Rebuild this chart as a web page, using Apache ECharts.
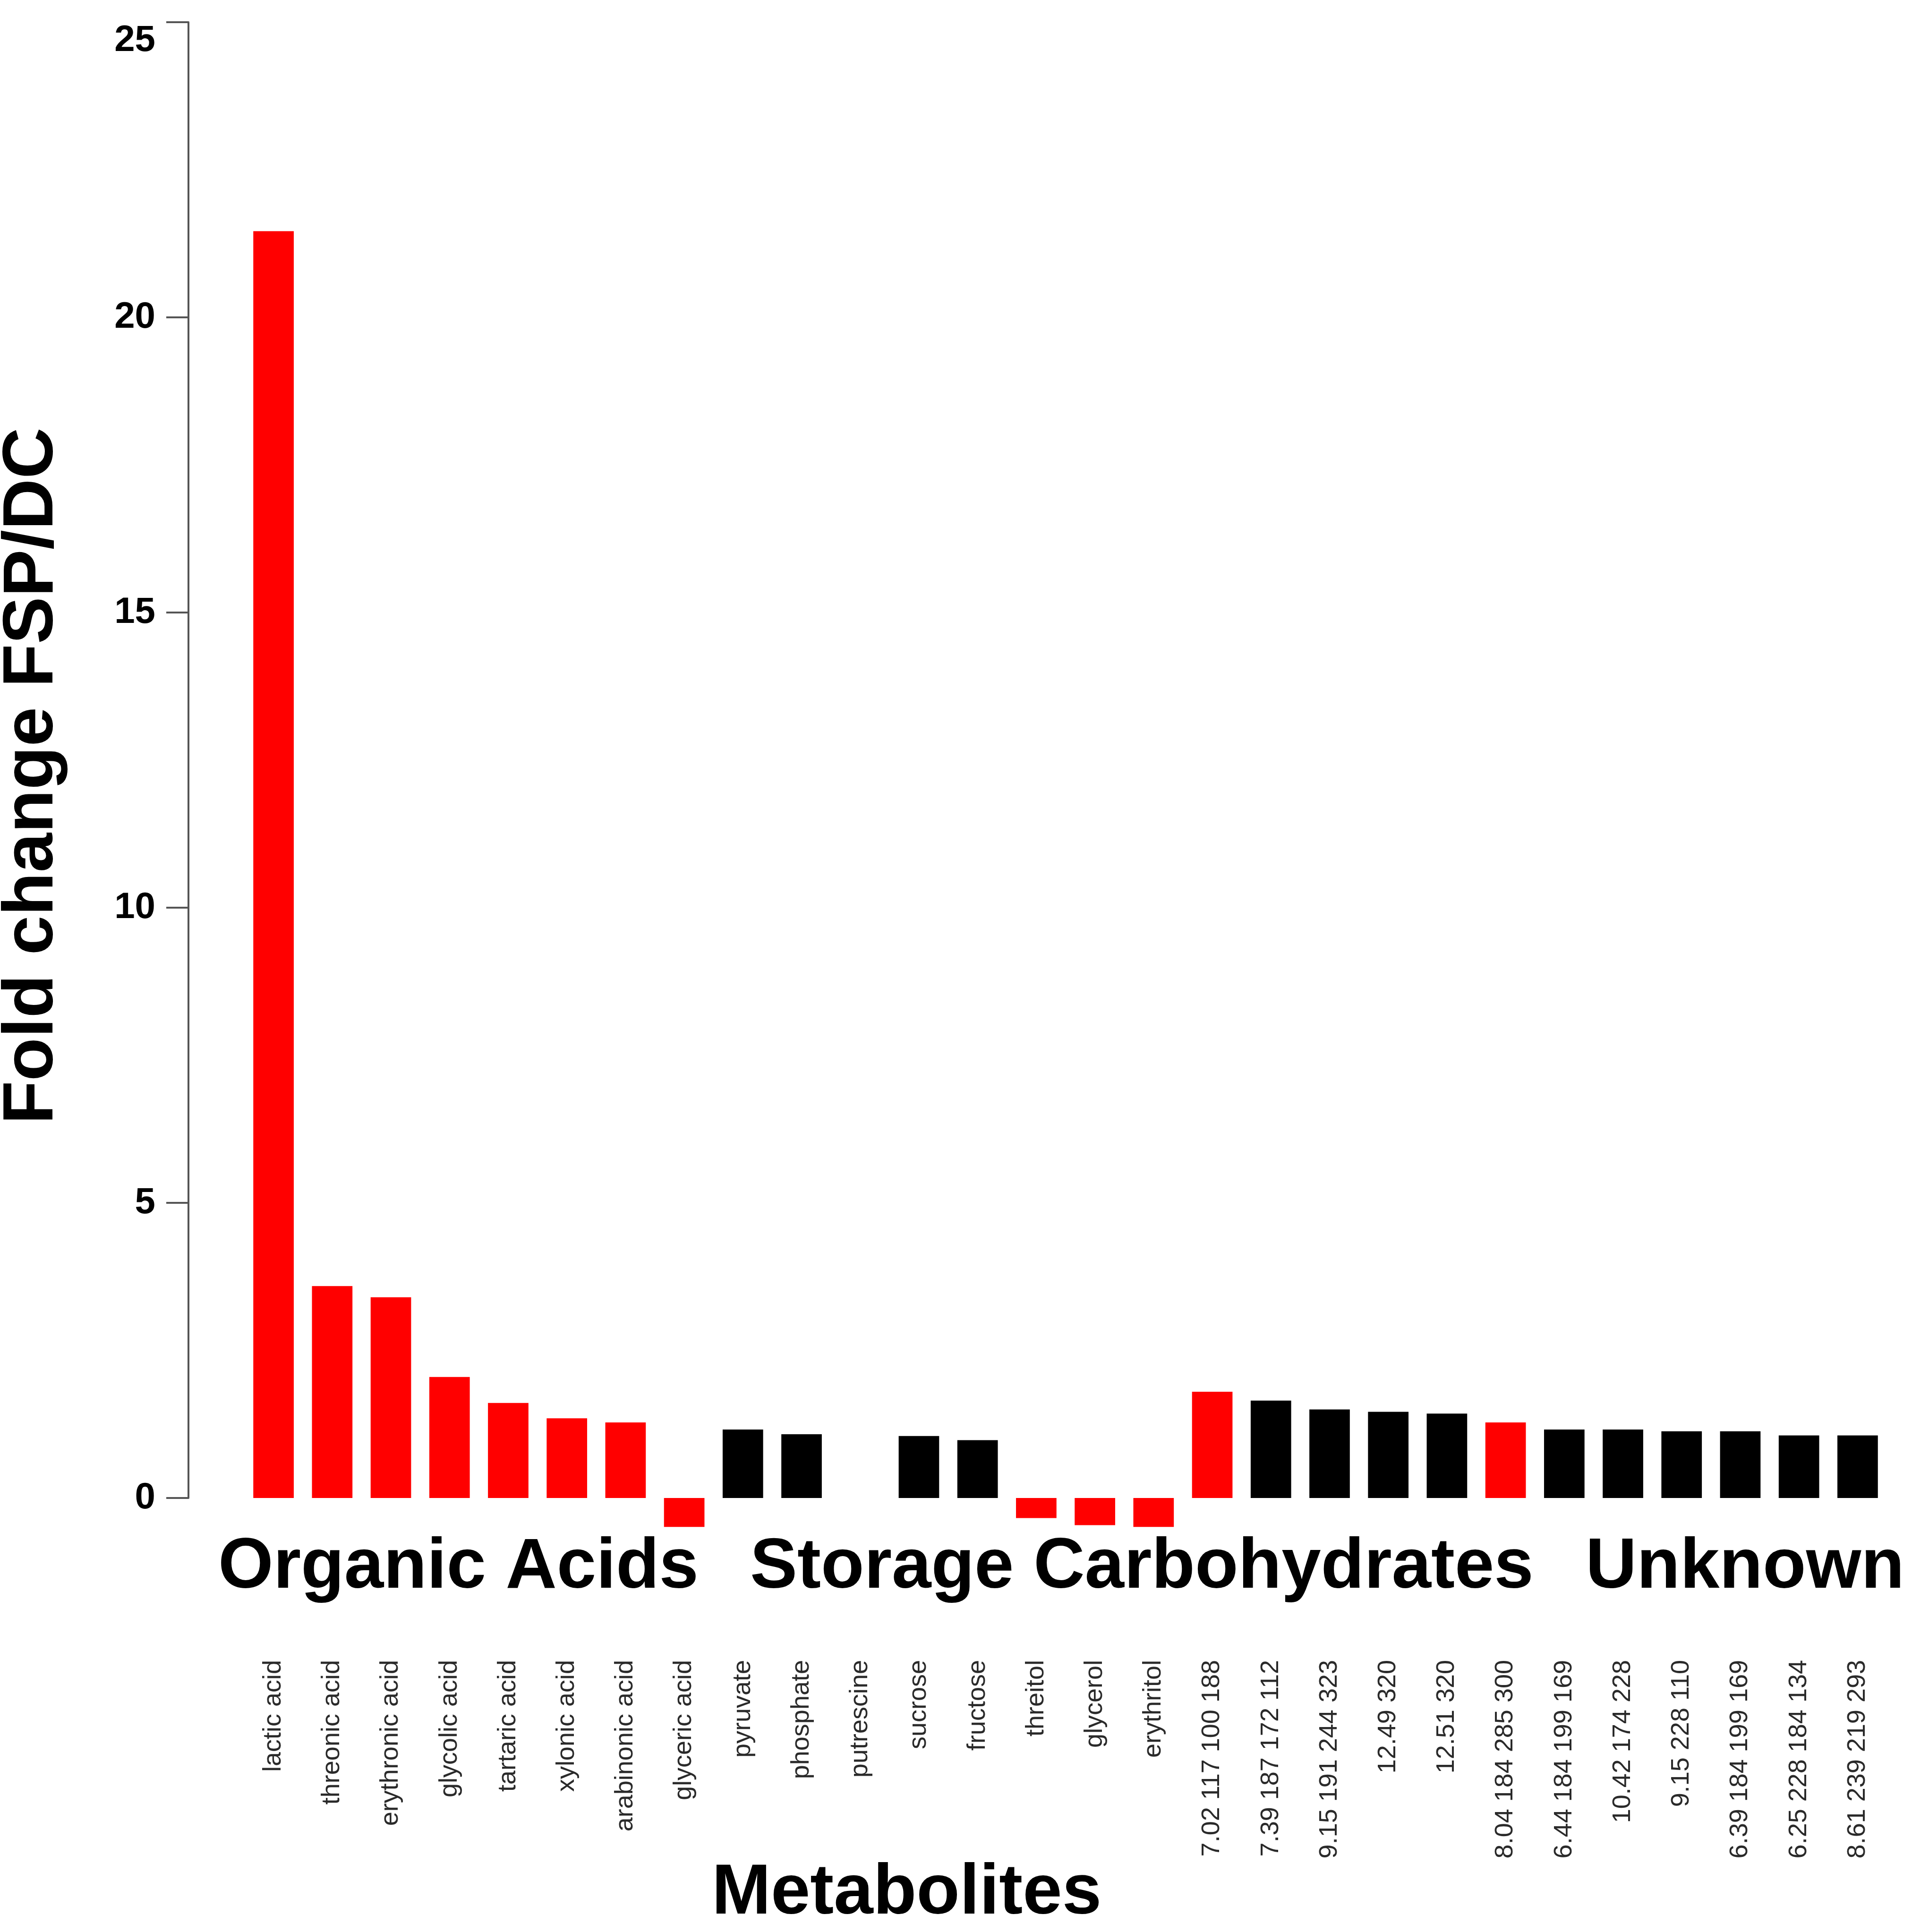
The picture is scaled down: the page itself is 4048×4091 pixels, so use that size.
<!DOCTYPE html>
<html>
<head>
<meta charset="utf-8">
<title>Fold change FSP/DC</title>
<script src="https://cdn.jsdelivr.net/npm/echarts@6/dist/echarts.min.js"></script>
<style>
  html, body { margin: 0; padding: 0; background: #fff; }
  #chart { width: 4048px; height: 4091px; }
</style>
</head>
<body>
<div id="chart"></div>
<script>
// metabolites in plotting order
const metabolites = [
  'lactic acid', 'threonic acid', 'erythronic acid', 'glycolic acid', 'tartaric acid',
  'xylonic acid', 'arabinonic acid', 'glyceric acid', 'pyruvate', 'phosphate',
  'putrescine', 'sucrose', 'fructose', 'threitol', 'glycerol', 'erythritol',
  '7.02 117 100 188', '7.39 187 172 112', '9.15 191 244 323', '12.49 320', '12.51 320',
  '8.04 184 285 300', '6.44 184 199 169', '10.42 174 228', '9.15 228 110',
  '6.39 184 199 169', '6.25 228 184 134', '8.61 239 219 293'
];
// fold change FSP/DC
const foldChange = [
  21.46, 3.59, 3.40, 2.05, 1.61,
  1.35, 1.28, -0.49, 1.16, 1.08,
  0, 1.05, 0.98, -0.34, -0.46, -0.49,
  1.80, 1.65, 1.50, 1.46, 1.43,
  1.28, 1.16, 1.16, 1.13,
  1.13, 1.06, 1.06
];
// 1 = drawn red in the figure, 0 = black
const significant = [
  1, 1, 1, 1, 1,
  1, 1, 1, 0, 0,
  0, 0, 0, 1, 1, 1,
  1, 0, 0, 0, 0,
  1, 0, 0, 0,
  0, 0, 0
];
const groups = ['Organic Acids', 'Storage Carbohydrates', 'Unknown'];
const yTicks = { min: 0, max: 25, step: 5 };

const chart = echarts.init(document.getElementById('chart'));

const font = '"Liberation Sans", Arial, sans-serif';

var barData = foldChange.map(function (v, i) {
  return {
    value: v,
    itemStyle: { color: significant[i] ? '#ff0000' : '#000000' }
  };
});

function bigText(text, x, y, align) {
  return {
    type: 'text',
    x: x,
    y: y,
    style: { text: text, font: 'bold 150px ' + font, fill: '#000', align: align || 'left', verticalAlign: 'middle' }
  };
}

var option = {
  backgroundColor: '#ffffff',
  animation: false,
  grid: {
    left: 517,
    right: 53,
    top: 47,
    bottom: 919
  },
  xAxis: {
    type: 'category',
    data: metabolites,
    axisLine: { show: false },
    axisTick: { show: false },
    axisLabel: {
      interval: 0,
      rotate: 90,
      margin: 343,
      fontSize: 54,
      fontFamily: font,
      color: '#2a2a2a'
    },
    splitLine: { show: false }
  },
  yAxis: {
    type: 'value',
    min: yTicks.min,
    max: yTicks.max,
    interval: yTicks.step,
    offset: 118,
    axisLine: { show: true, lineStyle: { color: '#555', width: 4 } },
    axisTick: { show: true, length: 47, lineStyle: { color: '#555', width: 4 } },
    axisLabel: {
      margin: 70,
      fontSize: 78,
      fontWeight: 'bold',
      fontFamily: font,
      color: '#000',
      verticalAlignMaxLabel: 'top'
    },
    splitLine: { show: false }
  },
  series: [
    {
      name: 'Fold change',
      type: 'bar',
      data: barData,
      barCategoryGap: '31%',
      clip: false
    }
  ],
  graphic: [
    {
      type: 'text',
      x: 70,
      y: 1643,
      rotation: Math.PI / 2,
      style: {
        text: 'Fold change FSP/DC',
        font: 'bold 150px ' + font,
        fill: '#000',
        align: 'center',
        verticalAlign: 'middle'
      }
    },
    bigText(groups[0], 462, 3321),
    bigText(groups[1], 1588, 3321),
    bigText(groups[2], 3357, 3321),
    bigText('Metabolites', 1507, 4011)
  ]
};

chart.setOption(option);
</script>
</body>
</html>
